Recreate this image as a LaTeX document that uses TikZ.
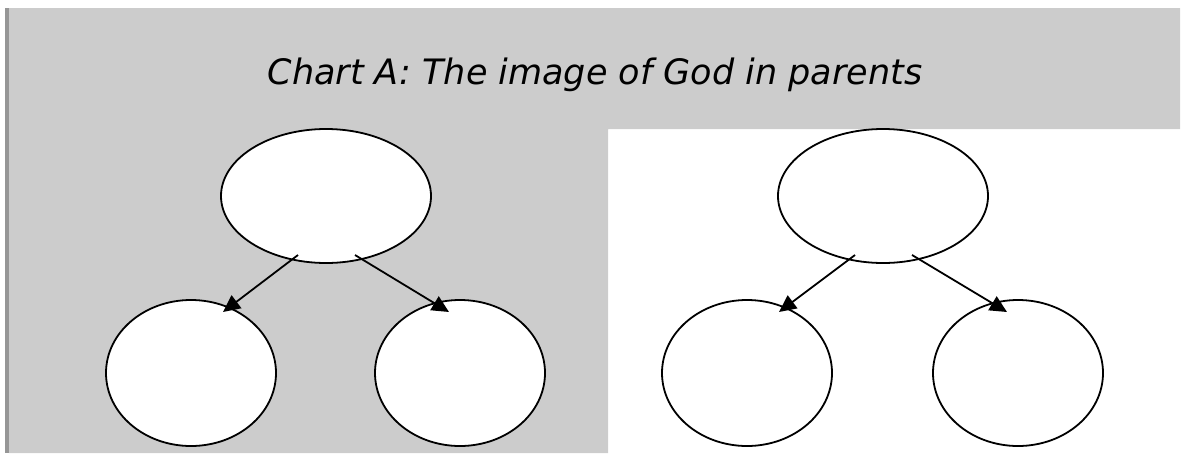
\documentclass[tikz,border=0pt]{standalone}
\usepackage{fontspec}
\newfontfamily\titlefont{DejaVu Sans}
\usetikzlibrary{shapes.geometric,arrows.meta,calc}

\definecolor{panelgray}{HTML}{CCCCCC}
\definecolor{bargray}{HTML}{969696}

\tikzset{
  bigoval/.style={ellipse,draw,fill=white,line width=1.8pt,inner sep=0pt,minimum width=210pt,minimum height=134pt},
  smalloval/.style={ellipse,draw,fill=white,line width=1.8pt,inner sep=0pt,minimum width=170pt,minimum height=146pt},
  link/.style={line width=1.8pt,-{Triangle[length=17pt,width=16pt]}}
}

\begin{document}
\begin{tikzpicture}[x=1pt,y=-1pt]
\useasboundingbox (0,0) rectangle (1181,453);
% background panels
\fill[panelgray] (9,8) -- (1180,8) -- (1180,129) -- (608,129) -- (608,453) -- (9,453) -- cycle;
\fill[bargray] (5,8) rectangle (9,453);
\node[anchor=base] (title) at (595,84) {\titlefont\itshape\fontsize{35pt}{40pt}\selectfont Chart A: The image of God in parents};

% left chart
\node[bigoval] (top1) at (326,196) {};
\node[smalloval] (left1) at (191,373) {};
\node[smalloval] (right1) at (460,373) {};
\draw[link] ($(top1)+(-28,59)$) -- ($(left1)+(32,-61)$);
\draw[link] ($(top1)+(29,59)$) -- ($(right1)+(-11,-61)$);

% right chart
\node[bigoval] (top2) at (883,196) {};
\node[smalloval] (left2) at (747,373) {};
\node[smalloval] (right2) at (1018,373) {};
\draw[link] ($(top2)+(-28,59)$) -- ($(left2)+(32,-61)$);
\draw[link] ($(top2)+(29,59)$) -- ($(right2)+(-11,-61)$);
\end{tikzpicture}
\end{document}
